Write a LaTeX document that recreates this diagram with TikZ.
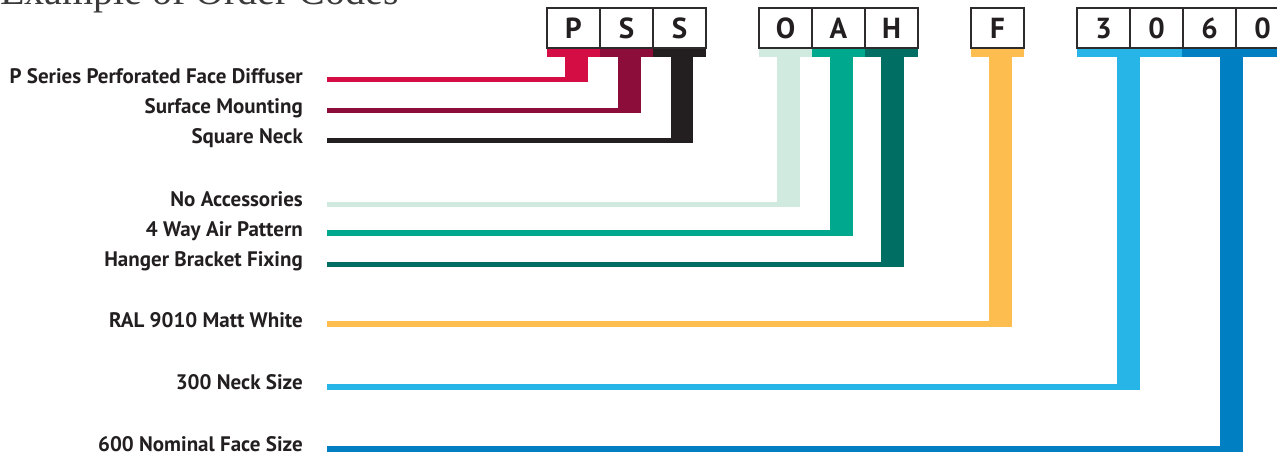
\documentclass[tikz,border=0pt]{standalone}
\usepackage{fontspec}
\setmainfont{Liberation Serif}
\newfontfamily\lblfont{PT Sans}
\definecolor{cP}{RGB}{212,14,68}
\definecolor{cS}{RGB}{140,13,58}
\definecolor{cQ}{RGB}{35,31,32}
\definecolor{cO}{RGB}{208,234,223}
\definecolor{cA}{RGB}{0,168,142}
\definecolor{cH}{RGB}{0,110,98}
\definecolor{cF}{RGB}{253,190,79}
\definecolor{cT}{RGB}{39,181,232}
\definecolor{cX}{RGB}{0,128,195}
\definecolor{boxline}{RGB}{45,43,44}
\definecolor{titlegray}{RGB}{60,58,58}
\begin{document}
\begin{tikzpicture}[x=1pt,y=-1pt,
  codebox/.style={draw=boxline, line width=2pt, fill=white, minimum width=53pt, minimum height=40pt, inner sep=0pt},
  codeletter/.style={anchor=base, inner sep=0pt, font=\lblfont\bfseries\fontsize{29}{29}\selectfont, text=cQ},
  label/.style={anchor=base east, inner sep=0pt, font=\lblfont\bfseries\fontsize{21}{22}\selectfont, text=cQ},
  title/.style={anchor=base west, inner sep=0pt, font=\fontsize{40}{40}\selectfont, text=titlegray}]
\useasboundingbox (0,0) rectangle (1277,452);
\clip (0,0) rectangle (1277,452);

% title
\node[title] (title) at (0,5) {Example of Order Codes};

% colour bars under the boxes
\fill[cP] (547,48) rectangle (600,57);
\fill[cS] (600,48) rectangle (653,57);
\fill[cQ] (653,48) rectangle (706,57);
\fill[cO] (759,48) rectangle (812,57);
\fill[cA] (812,48) rectangle (865,57);
\fill[cH] (865,48) rectangle (918,57);
\fill[cF] (971,48) rectangle (1024,57);
\fill[cT] (1077,48) rectangle (1182,57);
\fill[cX] (1182,48) rectangle (1290,57);

% code boxes
\node[codebox] (bP) at (573.5,28) {};
\node[codebox] (bS) at (626.5,28) {};
\node[codebox] (bQ) at (679.5,28) {};
\node[codebox] (bO) at (785.5,28) {};
\node[codebox] (bA) at (838.5,28) {};
\node[codebox] (bH) at (891.5,28) {};
\node[codebox] (bF) at (997.5,28) {};
\node[codebox] (b3) at (1103.5,28) {};
\node[codebox] (b0) at (1156.5,28) {};
\node[codebox] (b6) at (1209.5,28) {};
\node[codebox] (b00) at (1262.5,28) {};

\node[codeletter] at (573.5,38.5) {P};
\node[codeletter] at (626.5,38.5) {S};
\node[codeletter] at (679.5,38.5) {S};
\node[codeletter] at (785.5,38.5) {O};
\node[codeletter] at (838.5,38.5) {A};
\node[codeletter] at (891.5,38.5) {H};
\node[codeletter] at (997.5,38.5) {F};
\node[codeletter] at (1103.5,38.5) {3};
\node[codeletter] at (1156.5,38.5) {0};
\node[codeletter] at (1209.5,38.5) {6};
\node[codeletter] at (1262.5,38.5) {0};

% labels
\node[label] (lP) at (303,83) {P Series Perforated Face Diffuser};
\node[label] (lS) at (303,113.5) {Surface Mounting};
\node[label] (lQ) at (303,143.5) {Square Neck};
\node[label] (lO) at (303,206) {No Accessories};
\node[label] (lA) at (303,236) {4 Way Air Pattern};
\node[label] (lH) at (303,266.5) {Hanger Bracket Fixing};
\node[label] (lF) at (303,327) {RAL 9010 Matt White};
\node[label] (lT) at (303,389) {300 Neck Size};
\node[label] (lX) at (303,451) {600 Nominal Face Size};

% connectors: \conn{colour}{stem left}{stem right}{line centre}
\newcommand{\conn}[4]{%
  \fill[#1] (#2,56) rectangle (#3,#4+2.75);
  \fill[#1] (327,#4-2.75) rectangle (#2+0.5,#4+2.75);}
\conn{cP}{565}{588}{79.5}
\conn{cS}{618}{641}{110.5}
\conn{cQ}{671}{693}{140.5}
\conn{cO}{777}{800}{204.5}
\conn{cA}{830}{853}{233}
\conn{cH}{881}{904}{264.5}
\conn{cF}{989}{1012}{324}
\conn{cT}{1117}{1140}{387}
\conn{cX}{1220}{1243}{449}
\end{tikzpicture}
\end{document}
